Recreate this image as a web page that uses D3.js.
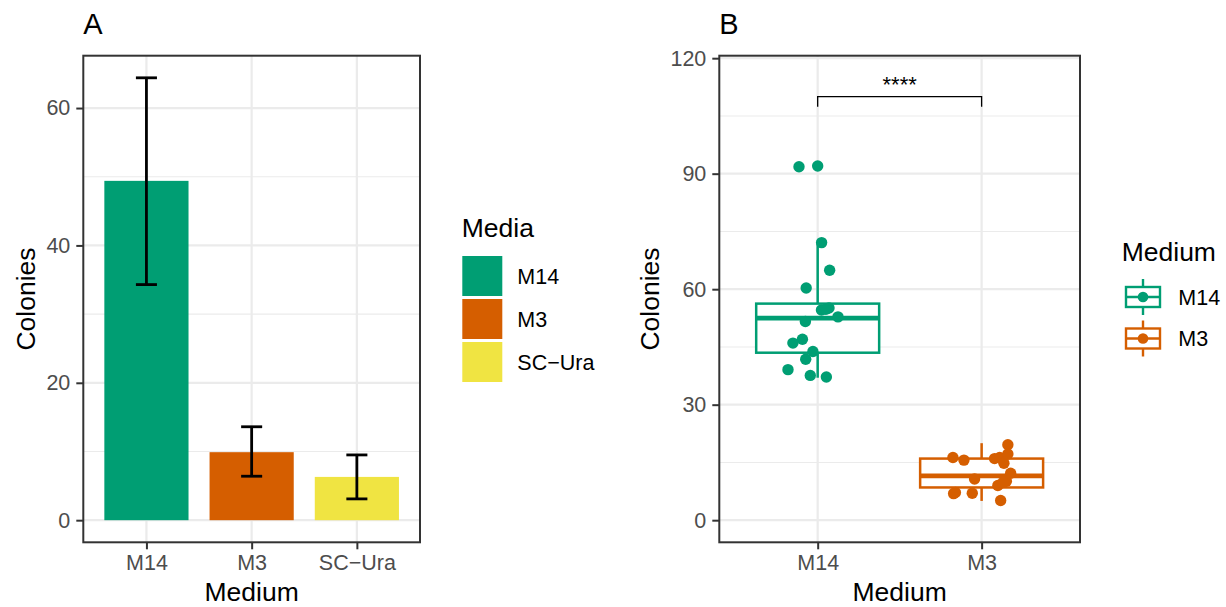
<!DOCTYPE html>
<html>
<head>
<meta charset="utf-8">
<script src="https://cdn.jsdelivr.net/npm/d3@7"></script>
<style>
  body { margin: 0; background: #ffffff; }
  text { font-family: "Liberation Sans", Arial, Helvetica, sans-serif; }
</style>
</head>
<body>
<svg id="chart" width="1226" height="607"></svg>
<script>
// ---------------- data: panel A ----------------
const mediaA = ["M14", "M3", "SC\u2212Ura"];
const barMeans = [49.4, 9.9, 6.3];
const barLower = [34.3, 6.4, 3.1];
const barUpper = [64.4, 13.6, 9.5];
const colorsA = ["#009E73", "#D55E00", "#F0E442"];
const yTicksA = [0, 20, 40, 60];

// ---------------- data: panel B ----------------
const mediumB = ["M14", "M3"];
const colorsB = ["#009E73", "#D55E00"];
const coloniesM14 = [92, 72, 65, 60, 55, 55, 55, 53, 52, 47, 46, 44, 42, 39, 38, 37];
const jitterXM14 = [-0.114, 0.024, 0.073, -0.070, 0.023, 0.069, 0.050, 0.124, -0.075, -0.093, -0.151, -0.029, -0.073, -0.181, -0.045, 0.053];
const jitterYM14 = [-0.2, 0.1, -0.1, 0.3, -0.4, 0.1, -0.2, -0.2, -0.4, 0.0, 0.0, -0.2, -0.2, 0.1, -0.4, 0.2];
const coloniesM3 = [16, 16, 15, 20, 17, 12, 10, 9, 11, 16, 16, 7, 7, 5, 7, 10];
const jitterXM3 = [0.079, 0.110, 0.136, 0.160, 0.160, 0.177, 0.151, 0.099, -0.043, -0.175, -0.108, -0.171, -0.057, 0.116, -0.160, 0.130];
const jitterYM3 = [0.0, 0.3, -0.2, -0.4, 0.2, 0.2, 0.1, 0.0, -0.3, 0.3, -0.4, -0.1, 0.0, 0.1, 0.2, -0.2];
const yTicksB = [0, 30, 60, 90, 120];
const yLimitsB = [0, 114.9];
const bracketY = 110, bracketTipY = 107.4, signifLabelY = 111.2;
const signifLabel = "****";

// ---------------- setup ----------------
const svg = d3.select("#chart");
const TICK_FS = 21.5, TITLE_FS = 26.5;
const BORDER = "#333333", GRID = "#EBEBEB", TICKTXT = "#4D4D4D";
const PT_R = 5.7;

function drawGrid(g, x, y, majors, panel) {
  const minors = d3.pairs(majors).map(([a, b]) => (a + b) / 2);
  g.selectAll(".minor").data(minors).join("line")
    .attr("x1", panel.left).attr("x2", panel.right)
    .attr("y1", d => y(d)).attr("y2", d => y(d))
    .attr("stroke", GRID).attr("stroke-width", 1.1);
  g.selectAll(".majorY").data(majors).join("line")
    .attr("x1", panel.left).attr("x2", panel.right)
    .attr("y1", d => y(d)).attr("y2", d => y(d))
    .attr("stroke", GRID).attr("stroke-width", 2.2);
  g.selectAll(".majorX").data(x.domain()).join("line")
    .attr("x1", d => x(d)).attr("x2", d => x(d))
    .attr("y1", panel.top).attr("y2", panel.bottom)
    .attr("stroke", GRID).attr("stroke-width", 2.2);
}

function drawAxes(x, y, ticks, panel, title, yTitleX) {
  const ax = svg.append("g").attr("transform", `translate(0,${panel.bottom})`)
    .call(d3.axisBottom(x).tickSize(7).tickPadding(5));
  const ay = svg.append("g").attr("transform", `translate(${panel.left},0)`)
    .call(d3.axisLeft(y).tickValues(ticks).tickSize(7).tickPadding(6));
  [ax, ay].forEach(a => {
    a.attr("font-family", null).attr("font-size", null);
    a.select(".domain").remove();
    a.selectAll(".tick line").attr("stroke", BORDER).attr("stroke-width", 2);
    a.selectAll(".tick text").attr("fill", TICKTXT).style("font-size", TICK_FS + "px");
  });
  svg.append("rect").attr("x", panel.left).attr("y", panel.top)
    .attr("width", panel.right - panel.left).attr("height", panel.bottom - panel.top)
    .attr("fill", "none").attr("stroke", BORDER).attr("stroke-width", 2);
  svg.append("text").attr("x", (panel.left + panel.right) / 2).attr("y", 601)
    .attr("text-anchor", "middle").style("font-size", TITLE_FS + "px").text("Medium");
  svg.append("text").attr("transform", `translate(${yTitleX},${(panel.top + panel.bottom) / 2}) rotate(-90)`)
    .attr("text-anchor", "middle").style("font-size", TITLE_FS + "px").text("Colonies");
  svg.append("text").attr("x", panel.left).attr("y", 34)
    .style("font-size", "29px").text(title);
}

// ---------------- panel A ----------------
const pA = { left: 83.3, right: 420, top: 55.7, bottom: 542.3 };
const xA = d3.scalePoint().domain(mediaA).range([pA.left, pA.right]).padding(0.6);
const maxA = d3.max(barUpper);
const yA = d3.scaleLinear().domain([-0.05 * maxA, 1.05 * maxA]).range([pA.bottom, pA.top]);
const stepA = xA.step();
const gA = svg.append("g");
drawGrid(gA, xA, yA, yTicksA, pA);

const rowsA = mediaA.map((m, i) => ({ m, mean: barMeans[i], lo: barLower[i], hi: barUpper[i], c: colorsA[i] }));
gA.selectAll(".bar").data(rowsA).join("rect")
  .attr("x", d => xA(d.m) - 0.4 * stepA).attr("width", 0.8 * stepA)
  .attr("y", d => yA(d.mean)).attr("height", d => yA(0) - yA(d.mean))
  .attr("fill", d => d.c);
const eb = gA.selectAll(".eb").data(rowsA).join("g").attr("stroke", "#000").attr("stroke-width", 2.8);
eb.append("line").attr("x1", d => xA(d.m)).attr("x2", d => xA(d.m))
  .attr("y1", d => yA(d.lo)).attr("y2", d => yA(d.hi));
eb.append("line").attr("x1", d => xA(d.m) - 0.1 * stepA).attr("x2", d => xA(d.m) + 0.1 * stepA)
  .attr("y1", d => yA(d.hi)).attr("y2", d => yA(d.hi));
eb.append("line").attr("x1", d => xA(d.m) - 0.1 * stepA).attr("x2", d => xA(d.m) + 0.1 * stepA)
  .attr("y1", d => yA(d.lo)).attr("y2", d => yA(d.lo));
drawAxes(xA, yA, yTicksA, pA, "A", 34.5);

// legend A
const legA = svg.append("g");
legA.append("text").attr("x", 461.7).attr("y", 237).style("font-size", TITLE_FS + "px").text("Media");
rowsA.forEach((d, i) => {
  const top = 256 + i * 43;
  legA.append("rect").attr("x", 462.3).attr("y", top).attr("width", 40).attr("height", 40).attr("fill", d.c);
  legA.append("text").attr("x", 517.3).attr("y", top + 20).attr("dy", "0.36em")
    .style("font-size", TICK_FS + "px").text(d.m);
});

// ---------------- panel B ----------------
const pB = { left: 719.3, right: 1080, top: 55.7, bottom: 542.3 };
const xB = d3.scalePoint().domain(mediumB).range([pB.left, pB.right]).padding(0.6);
const rangeB = yLimitsB[1] - yLimitsB[0];
const yB = d3.scaleLinear().domain([yLimitsB[0] - 0.05 * rangeB, yLimitsB[1] + 0.05 * rangeB]).range([pB.bottom, pB.top]);
const stepB = xB.step();
const gB = svg.append("g");
drawGrid(gB, xB, yB, yTicksB, pB);

const groups = [
  { m: mediumB[0], v: coloniesM14, jx: jitterXM14, jy: jitterYM14, c: colorsB[0] },
  { m: mediumB[1], v: coloniesM3, jx: jitterXM3, jy: jitterYM3, c: colorsB[1] }
];
groups.forEach(gr => {
  const s = gr.v.slice().sort(d3.ascending);
  const q1 = d3.quantile(s, 0.25), med = d3.quantile(s, 0.5), q3 = d3.quantile(s, 0.75);
  const iqr = q3 - q1;
  const lo = d3.min(s.filter(v => v >= q1 - 1.5 * iqr));
  const hi = d3.max(s.filter(v => v <= q3 + 1.5 * iqr));
  const outs = s.filter(v => v < lo || v > hi);
  const cx = xB(gr.m), hw = 0.375 * stepB;
  const g = gB.append("g");
  g.append("line").attr("x1", cx).attr("x2", cx).attr("y1", yB(q3)).attr("y2", yB(hi))
    .attr("stroke", gr.c).attr("stroke-width", 2.5);
  g.append("line").attr("x1", cx).attr("x2", cx).attr("y1", yB(q1)).attr("y2", yB(lo))
    .attr("stroke", gr.c).attr("stroke-width", 2.5);
  g.append("rect").attr("x", cx - hw).attr("width", 2 * hw)
    .attr("y", yB(q3)).attr("height", yB(q1) - yB(q3))
    .attr("fill", "#fff").attr("stroke", gr.c).attr("stroke-width", 2.5);
  g.append("line").attr("x1", cx - hw).attr("x2", cx + hw).attr("y1", yB(med)).attr("y2", yB(med))
    .attr("stroke", gr.c).attr("stroke-width", 4.8);
  g.selectAll(".out").data(outs).join("circle")
    .attr("cx", cx).attr("cy", d => yB(d)).attr("r", PT_R).attr("fill", gr.c);
  g.selectAll(".pt").data(gr.v.map((v, i) => ({ v, jx: gr.jx[i], jy: gr.jy[i] }))).join("circle")
    .attr("cx", d => cx + d.jx * stepB).attr("cy", d => yB(d.v + d.jy)).attr("r", PT_R).attr("fill", gr.c);
});

// significance bracket
const x1 = xB(mediumB[0]), x2 = xB(mediumB[1]);
gB.append("path")
  .attr("d", `M${x1},${yB(bracketTipY)}V${yB(bracketY)}H${x2}V${yB(bracketTipY)}`)
  .attr("fill", "none").attr("stroke", "#000").attr("stroke-width", 1.3);
gB.append("text").attr("x", (x1 + x2) / 2).attr("y", yB(signifLabelY))
  .attr("text-anchor", "middle").style("font-size", "22px").text(signifLabel);

drawAxes(xB, yB, yTicksB, pB, "B", 659);

// legend B
const legB = svg.append("g");
legB.append("text").attr("x", 1121.7).attr("y", 261).style("font-size", TITLE_FS + "px").text("Medium");
groups.forEach((gr, i) => {
  const cy = 297 + i * 41.5, cx = 1143;
  const k = legB.append("g").attr("stroke", gr.c).attr("stroke-width", 2.4);
  k.append("line").attr("x1", cx).attr("x2", cx).attr("y1", cy - 18).attr("y2", cy + 18);
  k.append("rect").attr("x", cx - 17).attr("y", cy - 10).attr("width", 34).attr("height", 20).attr("fill", "#fff");
  k.append("line").attr("x1", cx - 17).attr("x2", cx + 17).attr("y1", cy).attr("y2", cy);
  legB.append("circle").attr("cx", cx).attr("cy", cy).attr("r", 5.3).attr("fill", gr.c);
  legB.append("text").attr("x", 1178.3).attr("y", cy).attr("dy", "0.36em")
    .style("font-size", TICK_FS + "px").text(gr.m);
});
</script>
</body>
</html>
